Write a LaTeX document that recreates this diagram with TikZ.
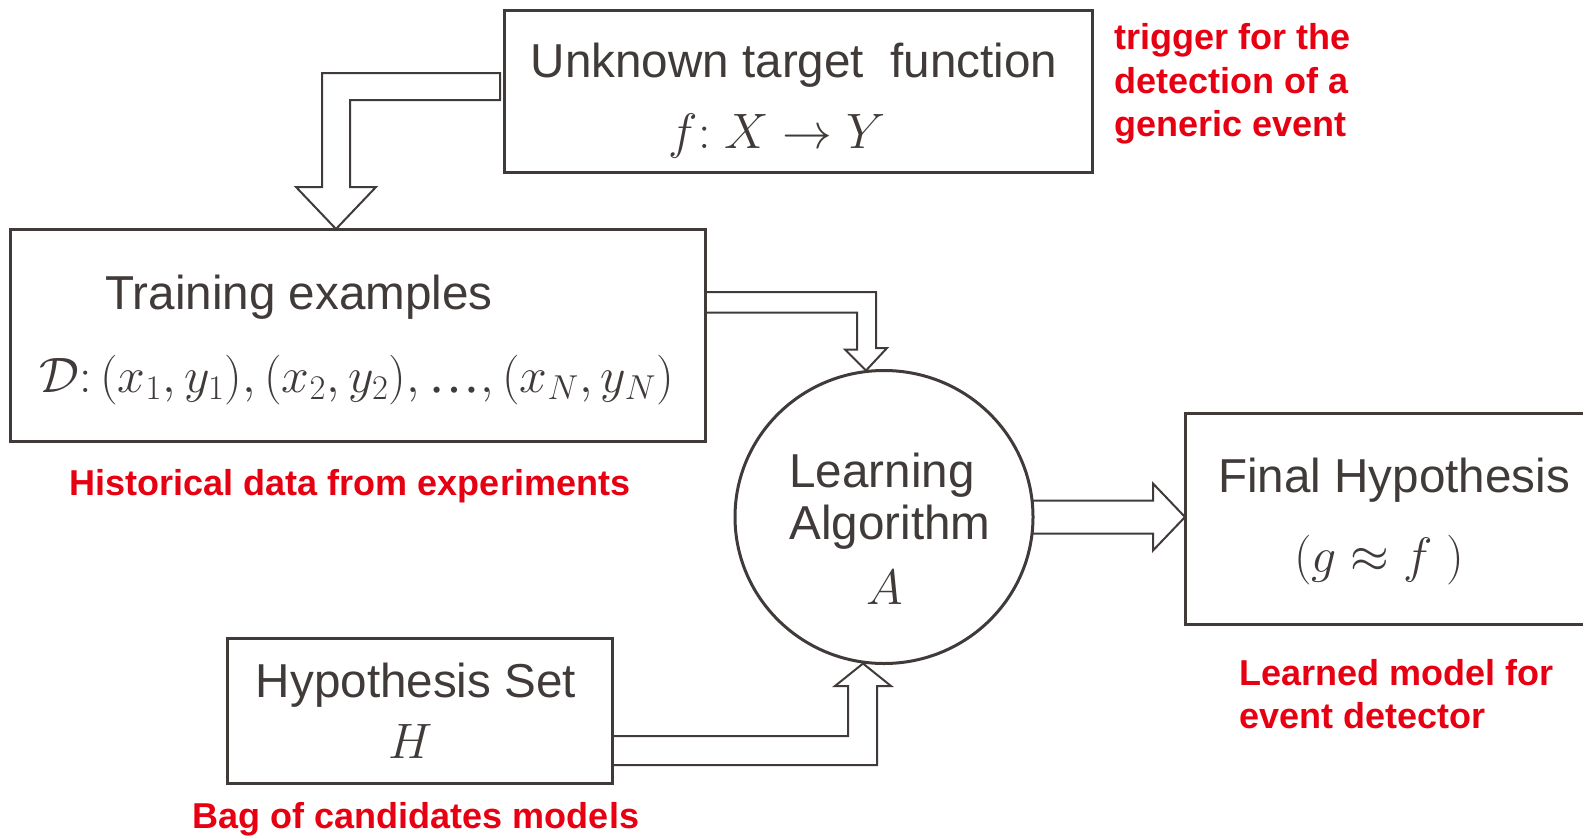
\documentclass[tikz,border=0pt]{standalone}
\usepackage{fontspec}
\setmainfont{Liberation Sans}
\newfontfamily\dotsfont{Liberation Serif}
\usepackage{amsmath}
\usetikzlibrary{shapes.geometric,calc}
\definecolor{ink}{RGB}{64,58,57}
\definecolor{notered}{RGB}{230,0,18}
\pgfdeclarelayer{background}
\pgfsetlayers{background,main}
\begin{document}
\begin{tikzpicture}[x=0.5pt,y=-0.5pt,
  box/.style={draw=ink, line width=1.5pt, fill=white, inner sep=0pt, outer sep=0pt},
  blockarrow/.style={draw=ink, line width=1pt, fill=white, line join=miter},
  lbl/.style={text=ink, font=\fontsize{23.8}{28}\selectfont, inner sep=0pt},
  mth/.style={text=ink, font=\fontsize{26}{30}\selectfont, inner sep=0pt},
  note/.style={text=notered, font=\bfseries\fontsize{18}{21.75}\selectfont, inner sep=0pt, align=left}]
\useasboundingbox (0,0) rectangle (1583,835);
\clip (0,0) rectangle (1583,835);

% boxes and the learning unit
\node[box, minimum width=294pt, minimum height=81pt] (T) at (798,91) {};
\node[box, minimum width=347.5pt, minimum height=106pt] (D) at (357.5,335) {};
\node[box, ellipse, minimum width=149pt, minimum height=146.5pt] (L) at (884,517) {};
\node[box, minimum width=217.5pt, minimum height=105.5pt] (F) at (1402.5,518.5) {};
\node[box, minimum width=192.5pt, minimum height=72.5pt] (H) at (419.5,710.5) {};

% texts inside
\node[lbl] (Tt) at (794,65) {Unknown target\ \ function};
\node[mth] (Tm) at (777,136) {$f{:}\;X \rightarrow Y$};
\node[lbl] (Dt) at (299,297) {Training examples};
\node[mth] (Dm) at (357,380) {$\mathcal{D}{:}\,(x_1,y_1),(x_2,y_2),\text{\dotsfont …},(x_N,y_N)$};
\node[lbl] (Lt1) at (882,475) {Learning};
\node[lbl] (Lt2) at (890,527) {Algorithm};
\node[mth] (La) at (885,587) {$A$};
\node[lbl] (Ft) at (1394,480) {Final Hypothesis};
\node[mth] (Fm) at (1379,560) {$(g \approx f\;)$};
\node[lbl] (Ht) at (416,685) {Hypothesis Set};
\node[mth] (Hm) at (411,741) {$H$};

% red notes
\node[note, anchor=west] (n1) at (1114,84) {trigger for the\\detection of a\\generic event};
\node[note] (n2) at (350,486) {Historical data from experiments};
\node[note, anchor=west] (n3) at (1239,694) {Learned model for\\event detector};
\node[note] (n4) at (416,819) {Bag of candidates models};

% hollow block arrows, kept behind the boxes
\begin{pgfonlayer}{background}
\draw[blockarrow] ([xshift=-2pt,yshift=9pt]T.west) -- ++(-178,0) -- ++(0,114) -- ++(-26,0)
  -- (D.north -| 336,0) -- ++(40,-42) -- ++(-26,0) -- ++(0,-87) -- ++(150,0) -- cycle;
\draw[blockarrow] ($(D.east)+(-15,-43)$) -- ++(186,0) -- ++(0,56) -- ++(11,0)
  -- (L.north -| 866,0) -- ++(-21,-21) -- ++(12,0) -- ++(0,-37) -- ++(-167,0) -- cycle;
\draw[blockarrow] ($(L.east)+(-60,-16.5)$) -- ++(180,0) -- ++(0,-17)
  -- (F.west |- L.east) -- ++(-32,33.5) -- ++(0,-17) -- ++(-180,0) -- cycle;
\draw[blockarrow] ($(H.east)+(-12,25.5)$) -- ++(248,0) -- ++(0,-50) -- ++(-13,0)
  -- (L.south -| 863,0) -- ++(28,22.5) -- ++(-14,0) -- ++(0,79) -- ++(-277,0) -- cycle;
\end{pgfonlayer}
\end{tikzpicture}
\end{document}
